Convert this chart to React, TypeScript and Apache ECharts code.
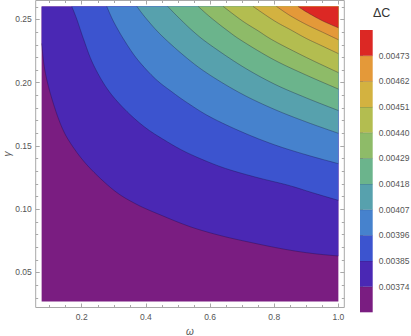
import React, { useEffect, useRef } from "react";
import * as echarts from "echarts";

// Data extents of the contour plot (ω horizontally, γ vertically)
const OMEGA_RANGE = [0.075, 1.0];
const GAMMA_RANGE = [0.027, 0.2603];

// Contour levels of ΔC (colour-bar tick labels)
const LEVELS = [0.00374, 0.00385, 0.00396, 0.00407, 0.00418, 0.00429, 0.0044, 0.00451, 0.00462, 0.00473];
const CBAR_MIN = 0.00363;
const CBAR_MAX = 0.00484;

// Band colours, lowest to highest
const BAND_COLORS = [
  "#7a1d81", "#4a28b4", "#3c54cf", "#4682cd", "#57a1ad", "#6bb48c",
  "#8ebb68", "#b3bd50", "#d3b240", "#e49939", "#dc2824",
];

// Contour lines, [ω, γ]
const C0 = [[0.075, 0.231], [0.085, 0.21], [0.105, 0.189], [0.136, 0.166], [0.168, 0.151], [0.22, 0.134], [0.3, 0.115], [0.37, 0.104], [0.45, 0.095], [0.54, 0.086], [0.635, 0.079], [0.74, 0.073], [0.84, 0.068], [0.92, 0.065], [1.0, 0.063]];
const C1 = [[0.169, 0.2603], [0.185, 0.25], [0.205, 0.235], [0.235, 0.215], [0.28, 0.195], [0.334, 0.179], [0.396, 0.165], [0.459, 0.1545], [0.53, 0.1445], [0.635, 0.1334], [0.74, 0.1255], [0.843, 0.119], [0.92, 0.113], [1.0, 0.107]];
const C2 = [[0.278, 0.2603], [0.3, 0.248], [0.334, 0.233], [0.375, 0.218], [0.43, 0.203], [0.48, 0.193], [0.53, 0.184], [0.6, 0.173], [0.7, 0.161], [0.8, 0.151], [0.9, 0.143], [1.0, 0.136]];
const C3 = [[0.372, 0.2603], [0.4, 0.251], [0.45, 0.237], [0.53, 0.219], [0.6, 0.206], [0.7, 0.191], [0.8, 0.179], [0.9, 0.169], [1.0, 0.16]];
const C4 = [[0.468, 0.2603], [0.5, 0.252], [0.55, 0.24], [0.6, 0.23], [0.7, 0.213], [0.8, 0.199], [0.9, 0.188], [1.0, 0.178]];
const C5 = [[0.563, 0.2603], [0.6, 0.252], [0.65, 0.242], [0.7, 0.233], [0.8, 0.218], [0.9, 0.206], [1.0, 0.195]];
const C6 = [[0.641, 0.2603], [0.7, 0.249], [0.75, 0.241], [0.8, 0.233], [0.9, 0.22], [1.0, 0.208]];
const C7 = [[0.734, 0.2603], [0.8, 0.249], [0.85, 0.242], [0.9, 0.235], [0.95, 0.229], [1.0, 0.223]];
const C8 = [[0.807, 0.2603], [0.85, 0.253], [0.9, 0.246], [0.95, 0.24], [1.0, 0.234]];
const C9 = [[0.874, 0.2603], [0.9, 0.256], [0.95, 0.249], [1.0, 0.2434]];
const CONTOURS = [C0, C1, C2, C3, C4, C5, C6, C7, C8, C9];

// Axis ticks
const X_MAJOR = [0.2, 0.4, 0.6, 0.8, 1.0];
const X_MINOR = [0.1, 0.15, 0.25, 0.3, 0.35, 0.45, 0.5, 0.55, 0.65, 0.7, 0.75, 0.85, 0.9, 0.95];
const Y_MAJOR = [0.05, 0.1, 0.15, 0.2, 0.25];
const Y_MINOR = [0.03, 0.04, 0.06, 0.07, 0.08, 0.09, 0.11, 0.12, 0.13, 0.14, 0.16, 0.17, 0.18, 0.19, 0.21, 0.22, 0.23, 0.24, 0.26];

const X_MIN = 0.0565, X_MAX = 1.0185;
const Y_MIN = 0.0223, Y_MAX = 0.265;

const FONT = "Liberation Sans, Arial, sans-serif";
const FRAME = "#a8a8a8";
const LABEL = "#555";

// Render-time Catmull-Rom smoothing of a pixel polyline
function smoothPx(pts: number[][], steps = 8): number[][] {
  if (pts.length < 3) return pts;
  const out: number[][] = [];
  for (let i = 0; i < pts.length - 1; i++) {
    const p0 = pts[Math.max(0, i - 1)];
    const p1 = pts[i];
    const p2 = pts[i + 1];
    const p3 = pts[Math.min(pts.length - 1, i + 2)];
    for (let s = 0; s < steps; s++) {
      const t = s / steps, t2 = t * t, t3 = t2 * t;
      const f = (a: number, b: number, c: number, d: number) =>
        0.5 * (2 * b + (-a + c) * t + (2 * a - 5 * b + 4 * c - d) * t2 + (-a + 3 * b - 3 * c + d) * t3);
      out.push([f(p0[0], p1[0], p2[0], p3[0]), f(p0[1], p1[1], p2[1], p3[1])]);
    }
  }
  out.push(pts[pts.length - 1]);
  return out;
}

function tickAxis(pos: string, values: number[], len: number, extra: any = {}) {
  const isX = pos === "top" || pos === "bottom";
  return {
    type: "value",
    gridIndex: 0,
    position: pos,
    min: isX ? X_MIN : Y_MIN,
    max: isX ? X_MAX : Y_MAX,
    axisLine: { show: false, onZero: false },
    splitLine: { show: false },
    axisTick: { show: true, inside: true, length: len, customValues: values, lineStyle: { color: FRAME, width: 1 } },
    axisLabel: { show: false },
    ...extra,
  };
}

export default function App() {
  const ref = useRef<HTMLDivElement>(null);
  useEffect(() => {
    document.body.style.margin = "0";
    const chart = echarts.init(ref.current!, null, { renderer: "svg" });
    const [x0, x1] = OMEGA_RANGE;
    const [y0, y1] = GAMMA_RANGE;
    const contourData = [[x0, y0, -1], ...CONTOURS.map((_, k) => [x0, y0, k])];
    const bandData = BAND_COLORS.map((_, i) => [
      0,
      i === 0 ? CBAR_MIN : LEVELS[i - 1],
      i === BAND_COLORS.length - 1 ? CBAR_MAX : LEVELS[i],
      i,
    ]);

    chart.setOption({
      animation: false,
      textStyle: { fontFamily: FONT },
      grid: [
        { left: 35.7, top: 0.5, width: 308.6, height: 307, show: true, borderColor: FRAME, borderWidth: 1, backgroundColor: "#fff", containLabel: false, outerBoundsMode: "none" },
        { left: 360, top: 30, width: 12.7, height: 282.3, show: false, containLabel: false, outerBoundsMode: "none" },
      ],
      xAxis: [
        tickAxis("bottom", X_MAJOR, 4, {
          axisLabel: {
            show: true, customValues: X_MAJOR, formatter: (v: number) => v.toFixed(1),
            fontSize: 8.5, color: LABEL, margin: 5, fontFamily: FONT,
          },
          name: "ω", nameLocation: "middle", nameGap: 13,
          nameTextStyle: { fontSize: 10, color: LABEL, fontStyle: "italic", fontFamily: FONT },
        }),
        tickAxis("bottom", X_MINOR, 2.5),
        tickAxis("top", X_MAJOR, 4),
        tickAxis("top", X_MINOR, 2.5),
        { type: "value", gridIndex: 1, min: 0, max: 1, show: false },
      ],
      yAxis: [
        tickAxis("left", Y_MAJOR, 4, {
          axisLabel: {
            show: true, customValues: Y_MAJOR, formatter: (v: number) => v.toFixed(2),
            fontSize: 8.5, color: LABEL, margin: 4, fontFamily: FONT,
          },
        }),
        tickAxis("left", Y_MINOR, 2.5),
        tickAxis("right", Y_MAJOR, 4),
        tickAxis("right", Y_MINOR, 2.5),
        {
          type: "value", gridIndex: 1, position: "right", min: CBAR_MIN, max: CBAR_MAX,
          axisLine: { show: false },
          splitLine: { show: false },
          axisTick: { show: true, length: 3, customValues: LEVELS, lineStyle: { color: FRAME } },
          axisLabel: {
            show: true, customValues: LEVELS, formatter: (v: number) => v.toFixed(5),
            fontSize: 8.5, color: LABEL, margin: 6, fontFamily: FONT,
          },
        },
      ],
      graphic: [
        {
          type: "text", x: 381.7, y: 13,
          style: { text: "ΔC", fontSize: 12.5, fill: "#333", align: "center", verticalAlign: "middle", fontFamily: FONT },
        },
        {
          type: "text", x: 7.5, y: 154, rotation: Math.PI / 2,
          style: { text: "γ", fontSize: 10, fill: LABEL, fontStyle: "italic", align: "center", verticalAlign: "middle", fontFamily: FONT },
        },
      ],
      series: [
        {
          type: "custom",
          xAxisIndex: 0,
          yAxisIndex: 0,
          data: contourData,
          renderItem: (_params: any, api: any) => {
            const k = api.value(2);
            if (k < 0) {
              const p0 = api.coord([x0, y1]);
              const p1 = api.coord([x1, y0]);
              return {
                type: "rect",
                shape: { x: p0[0], y: p0[1], width: p1[0] - p0[0], height: p1[1] - p0[1] },
                style: { fill: BAND_COLORS[0] },
              };
            }
            const pts = smoothPx(CONTOURS[k].map((p) => api.coord(p)));
            const poly = [...pts, api.coord([x1, y1]), api.coord([x0, y1])];
            return {
              type: "group",
              children: [
                { type: "polygon", shape: { points: poly }, style: { fill: BAND_COLORS[k + 1] } },
                { type: "polyline", shape: { points: pts }, style: { stroke: "rgba(20,10,50,0.45)", lineWidth: 0.7, fill: null } },
              ],
            };
          },
        },
        {
          type: "custom",
          xAxisIndex: 4,
          yAxisIndex: 4,
          data: bandData,
          renderItem: (_params: any, api: any) => {
            const i = api.value(3);
            const a = api.coord([0, api.value(2)]);
            const b = api.coord([1, api.value(1)]);
            const children: any[] = [
              { type: "rect", shape: { x: a[0], y: a[1], width: b[0] - a[0], height: b[1] - a[1] }, style: { fill: BAND_COLORS[i] } },
            ];
            if (i < BAND_COLORS.length - 1) {
              children.push({
                type: "line",
                shape: { x1: a[0], y1: a[1], x2: b[0], y2: a[1] },
                style: { stroke: "rgba(20,10,50,0.4)", lineWidth: 0.7 },
              });
            }
            return { type: "group", children };
          },
        },
      ],
    });
    return () => chart.dispose();
  }, []);
  return <div ref={ref} style={{ width: 411, height: 336 }} />;
}
